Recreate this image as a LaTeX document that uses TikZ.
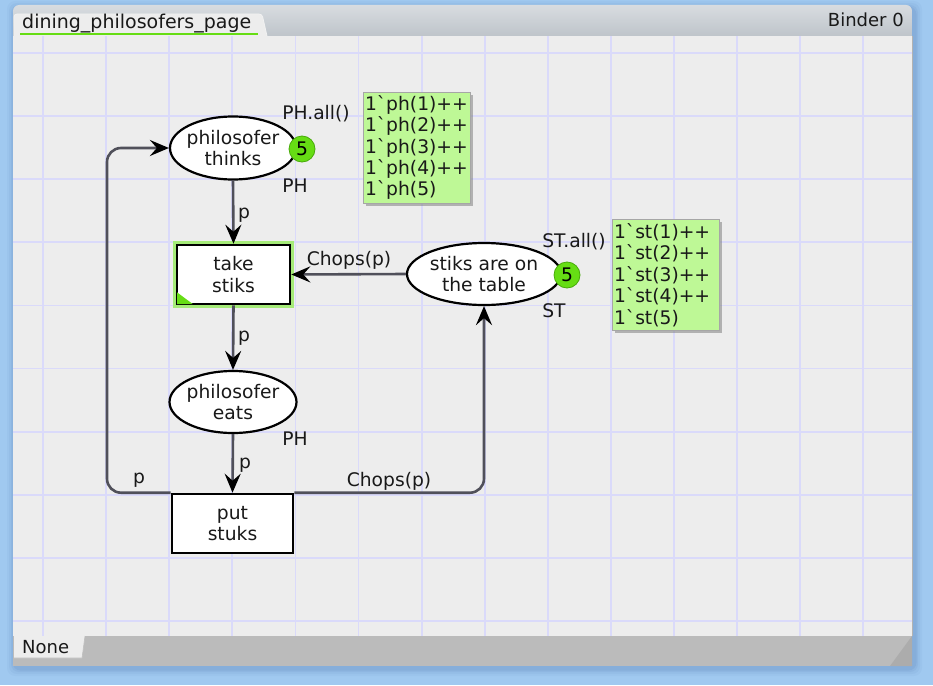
\documentclass[tikz,border=0pt]{standalone}
\usepackage{fontspec}
\newfontfamily\dv{DejaVu Sans}
\setmainfont{DejaVu Sans}
\usetikzlibrary{shapes.geometric,arrows.meta,shadows,calc}
\definecolor{bgblue}{RGB}{160,201,240}
\definecolor{shadowblue}{RGB}{100,140,190}
\definecolor{canvasc}{RGB}{237,237,237}
\definecolor{gridc}{RGB}{218,218,250}
\definecolor{barbot}{RGB}{187,187,187}
\definecolor{arcgray}{RGB}{80,80,90}
\definecolor{txtgray}{RGB}{25,25,25}
\definecolor{tokgreen}{RGB}{102,221,20}
\definecolor{tokdark}{RGB}{72,170,10}
\definecolor{boxgreen}{RGB}{190,248,150}
\definecolor{glowc}{RGB}{165,235,120}
\begin{document}
\begin{tikzpicture}[x=1pt,y=-1pt,
  every node/.style={font=\dv\fontsize{18.7}{21.4}\selectfont, text=txtgray},
  place/.style={ellipse, draw=black, line width=2.2pt, fill=white, inner xsep=-8pt, inner ysep=0pt, align=center},
  trans/.style={rectangle, draw=black, line width=2.6pt, fill=white, inner sep=0pt, align=center},
  arc/.style={draw=arcgray, line width=2.6pt, -{Stealth[length=19pt,width=16pt,inset=7pt,fill=black,color=black]}},
  lbl/.style={anchor=base, inner sep=0pt},
  token/.style={circle, fill=tokgreen, draw=tokdark, line width=0.8pt, minimum size=26pt, inner sep=0pt, text=black},
  tokbox/.style={rectangle, fill=boxgreen, draw=gray!70, line width=0.8pt, align=left, inner xsep=2pt, inner ysep=0pt, text width=103pt, minimum height=111pt,
     drop shadow={shadow xshift=2.5pt, shadow yshift=-2.5pt, opacity=0.55, fill=gray}},
  gridline/.style={draw=gridc, line width=1.8pt}
]
\useasboundingbox (0,0) rectangle (933,685);
\fill[bgblue] (0,0) rectangle (933,685);
% window shadow
\foreach \d/\o in {7/0.07,5/0.10,3/0.14,1.5/0.18}{
  \fill[shadowblue,opacity=\o,rounded corners=8pt] (12-\d+2,5-\d+3) rectangle (913+\d+2,666+\d+3);
}
% canvas
\fill[canvasc] (13,36) rectangle (912,636);
\begin{scope}
  \clip (13,36) rectangle (912,636);
  \foreach \i in {0,...,13} \draw[gridline] ({43+63.1*\i},36) -- ({43+63.1*\i},636);
  \foreach \j in {0,...,9} \draw[gridline] (13,{53+63.1*\j}) -- (912,{53+63.1*\j});
\end{scope}
\draw[gray!60, line width=0.8pt] (912,36) -- (912,636);
% top bar
\shade[top color={rgb,255:red,216;green,220;blue,224}, bottom color={rgb,255:red,190;green,196;blue,202}]
  (13,36) [rounded corners=6pt] -- (13,5) -- (912,5) [sharp corners] -- (912,36) -- cycle;
\fill[canvasc] (14,36) [rounded corners=3pt] -- (14,14) -- (262,14) [sharp corners] -- (267,36) -- cycle;
\draw[white!90!gray, line width=0.8pt] (14,36) [rounded corners=3pt] -- (14,14) -- (262,14) [sharp corners] -- (267,36);
\node[anchor=base west, inner sep=0pt, font=\dv\fontsize{19}{22}\selectfont] (tabname) at (22,29) {dining\_philosofers\_page};
\draw[tokgreen, line width=2.2pt] (20,34) -- (258,34);
\node[anchor=base east, inner sep=0pt, font=\dv\fontsize{18}{22}\selectfont] (binder) at (904,27) {Binder 0};
% bottom bar
\fill[barbot] (13,636) rectangle (912,666);
\fill[gray!65] (890,666) -- (912,636) -- (912,666) -- cycle;
\fill[canvasc] (14,636) -- (85,636) -- (82,658) -- (14,658) -- cycle;
\draw[gray!50, line width=0.6pt] (85,636) -- (82,658) -- (14,658);
\node[anchor=base west, inner sep=0pt, font=\dv\fontsize{18}{22}\selectfont] (nonetab) at (22,653) {None};

% places and transitions
\node[place, minimum width=126pt, minimum height=63pt] (thinks) at (233,148) {philosofer\\thinks};
\node[place, minimum width=154pt, minimum height=62pt] (table) at (484,274) {stiks are on\\the table};
\node[place, minimum width=127pt, minimum height=62pt] (eats) at (233,402) {philosofer\\eats};
\node[trans, minimum width=113pt, minimum height=59pt, preaction={draw=glowc, line width=8pt}] (take) at (233.5,274.5) {take\\stiks};
\fill[tokgreen] ([shift={(1.3,-13)}]take.south west) -- ([shift={(1.3,-1.3)}]take.south west) -- ([shift={(17,-1.3)}]take.south west) -- cycle;
\node[trans, minimum width=121pt, minimum height=59pt] (put) at (232.5,523.5) {put\\stuks};

% tokens
\node[token] (tk1) at (302,149) {5};
\node[token] (tk2) at (567,275) {5};
\node[tokbox] (phbox) at (416.5,147.5) {1`ph(1)++\\1`ph(2)++\\1`ph(3)++\\1`ph(4)++\\1`ph(5)};
\node[tokbox] (stbox) at (665.5,275) {1`st(1)++\\1`st(2)++\\1`st(3)++\\1`st(4)++\\1`st(5)};

% arcs
\coordinate (lcorner) at (107,148);
\draw[arc] (thinks.south) -- (take.north);
\draw[arc] (table.west) -- (take.east);
\draw[arc] (take.south) -- (eats.north);
\draw[arc] (eats.south) -- (put.north);
\draw[arc, rounded corners=14pt] (put.north west) -| (lcorner) -- (thinks.west);
\draw[arc, rounded corners=14pt] (put.north east) -| (table.south);

% labels
\node[lbl] (l1) at (316,119) {PH.all()};
\node[lbl] (l2) at (295,192) {PH};
\node[lbl] (l3) at (244,218) {p};
\node[lbl] (l4) at (349,265) {Chops(p)};
\node[lbl] (l5) at (574,247) {ST.all()};
\node[lbl] (l6) at (554,317) {ST};
\node[lbl] (l7) at (244,341) {p};
\node[lbl] (l8) at (295,445) {PH};
\node[lbl] (l9) at (245,468) {p};
\node[lbl] (l10) at (139,483) {p};
\node[lbl] (l11) at (389,486) {Chops(p)};
\end{tikzpicture}
\end{document}
